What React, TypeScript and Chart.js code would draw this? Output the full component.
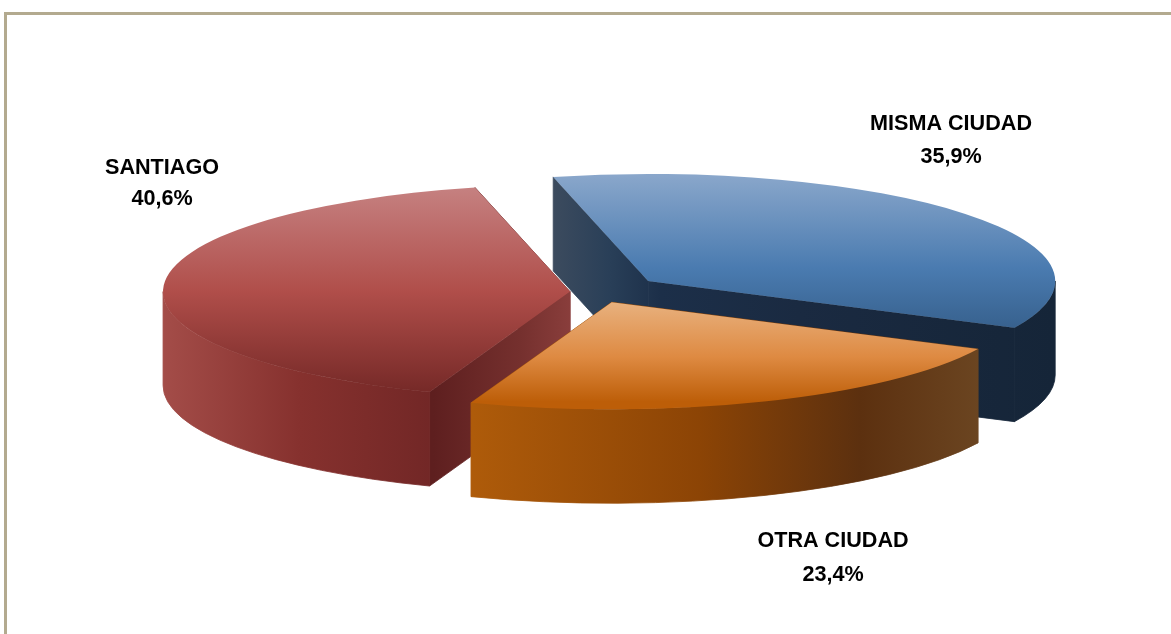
import React, { useEffect, useRef } from "react";
import { Chart, registerables } from "chart.js";

Chart.register(...registerables);

const categories = ["MISMA CIUDAD", "OTRA CIUDAD", "SANTIAGO"];
const values = [35.9, 23.4, 40.6];
const explode = [67, 42, 26];

const topStops: [number, string][][] = [
  [[0, "#8aa7cb"], [0.62, "#4a7bb0"], [1, "#38628f"]],
  [[0, "#e8b17e"], [0.55, "#de8a42"], [1, "#bd5e08"]],
  [[0, "#c68282"], [0.52, "#b04e4a"], [1, "#772a28"]],
];
const topRange = [[-1, 0.42], [0, 0.93], [-1, 0.92]];
const wallStops: [number, string][][] = [
  [[553, "#3c4b5e"], [610, "#293f58"], [660, "#1c2f49"], [800, "#1a2a41"], [1055, "#152538"]],
  [[473, "#ae5b0a"], [700, "#8c4405"], [860, "#5c300f"], [980, "#6b4521"]],
  [[165, "#a34c48"], [300, "#86312e"], [433, "#722726"]],
];
const santiagoInnerWall: [number, string][] = [[433, "#5e1f1f"], [520, "#75302e"], [572, "#8a3e3c"]];
const labelSpots = [[951, 124, 157], [833, 541, 575], [162, 168, 199]];

const RADIUS = 407;
const SQUASH = 107 / 407;
const DEPTH = 94;
const ROTATION = -13.5;
const BACK_TO_FRONT = [0, 2, 1];

function linear(ctx: CanvasRenderingContext2D, x0: number, y0: number, x1: number, y1: number, stops: [number, string][]) {
  const g = ctx.createLinearGradient(x0, y0, x1, y1);
  stops.forEach(([p, c]) => g.addColorStop(p, c));
  return g;
}

function horizontal(ctx: CanvasRenderingContext2D, stops: [number, string][]) {
  const a = stops[0][0];
  const b = stops[stops.length - 1][0];
  return linear(ctx, a, 0, b, 0, stops.map(([x, c]) => [(x - a) / (b - a), c] as [number, string]));
}

function apexOf(arc: any, i: number) {
  const mid = (arc.startAngle + arc.endAngle) / 2;
  return {
    ax: arc.x + explode[i] * Math.cos(mid),
    ay: arc.y + explode[i] * Math.sin(mid) * SQUASH,
  };
}

const pie3d = {
  id: "pie3d",
  beforeDatasetDraw(chart: any) {
    const ctx: CanvasRenderingContext2D = chart.ctx;
    const arcs = chart.getDatasetMeta(0).data;

    BACK_TO_FRONT.forEach((i) => {
      const arc = arcs[i];
      const { ax, ay } = apexOf(arc, i);
      const R = arc.outerRadius;
      const wall = horizontal(ctx, wallStops[i]);
      const radial = i === 2 ? horizontal(ctx, santiagoInnerWall) : wall;
      ctx.lineWidth = 0.8;
      [arc.startAngle, arc.endAngle].forEach((a: number) => {
        const ex = ax + R * Math.cos(a);
        const ey = ay + R * SQUASH * Math.sin(a);
        ctx.beginPath();
        ctx.moveTo(ax, ay);
        ctx.lineTo(ex, ey);
        ctx.lineTo(ex, ey + DEPTH);
        ctx.lineTo(ax, ay + DEPTH);
        ctx.closePath();
        ctx.fillStyle = radial;
        ctx.strokeStyle = radial;
        ctx.fill();
        ctx.stroke();
      });
      const lo = Math.max(arc.startAngle, 0);
      const hi = Math.min(arc.endAngle, Math.PI);
      if (hi > lo) {
        ctx.beginPath();
        ctx.ellipse(ax, ay, R, R * SQUASH, 0, lo, hi);
        ctx.ellipse(ax, ay + DEPTH, R, R * SQUASH, 0, hi, lo, true);
        ctx.closePath();
        ctx.fillStyle = wall;
        ctx.strokeStyle = wall;
        ctx.fill();
        ctx.stroke();
      }
    });

    BACK_TO_FRONT.forEach((i) => {
      const arc = arcs[i];
      const { ax, ay } = apexOf(arc, i);
      ctx.save();
      ctx.translate(ax, ay);
      ctx.scale(1, SQUASH);
      ctx.translate(-arc.x, -arc.y);
      arc.draw(ctx);
      ctx.restore();
    });

    return false;
  },
  afterDraw(chart: any) {
    const ctx: CanvasRenderingContext2D = chart.ctx;
    ctx.save();
    ctx.fillStyle = "#000000";
    ctx.font = 'bold 21.6px "Liberation Sans", Arial, sans-serif';
    ctx.textAlign = "center";
    ctx.textBaseline = "middle";
    categories.forEach((name, i) => {
      const [x, y1, y2] = labelSpots[i];
      ctx.fillText(name, x, y1);
      ctx.fillText(values[i].toFixed(1).replace(".", ",") + "%", x, y2);
    });
    ctx.restore();
  },
};

export default function App() {
  const ref = useRef<HTMLCanvasElement>(null);
  useEffect(() => {
    const canvas = ref.current!;
    const chart = new Chart(canvas, {
      type: "pie",
      data: {
        labels: categories,
        datasets: [
          {
            data: values,
            borderWidth: 0,
            backgroundColor: (c: any) => {
              const area = c.chart.chartArea;
              if (!area) return "#888888";
              const cy = (area.top + area.bottom) / 2;
              const [f0, f1] = topRange[c.dataIndex];
              return linear(c.chart.ctx, 0, cy + f0 * RADIUS, 0, cy + f1 * RADIUS, topStops[c.dataIndex]);
            },
          },
        ],
      },
      options: {
        responsive: false,
        animation: false,
        radius: RADIUS,
        rotation: ROTATION,
        layout: { padding: { left: 21, bottom: 50 } },
        plugins: { legend: { display: false }, tooltip: { enabled: false } },
        events: [],
      } as any,
      plugins: [pie3d as any],
    });
    return () => chart.destroy();
  }, []);

  return (
    <div style={{ position: "absolute", left: 0, top: 0, width: 1171, height: 634, background: "#ffffff", overflow: "hidden" }}>
      <canvas ref={ref} width={1171} height={634} style={{ position: "absolute", left: 0, top: 0 }} />
      <div style={{ position: "absolute", left: 4, top: 12, right: 0, height: 3, background: "#b3aa8f" }} />
      <div style={{ position: "absolute", left: 4, top: 12, bottom: 0, width: 3, background: "#b3aa8f" }} />
    </div>
  );
}
